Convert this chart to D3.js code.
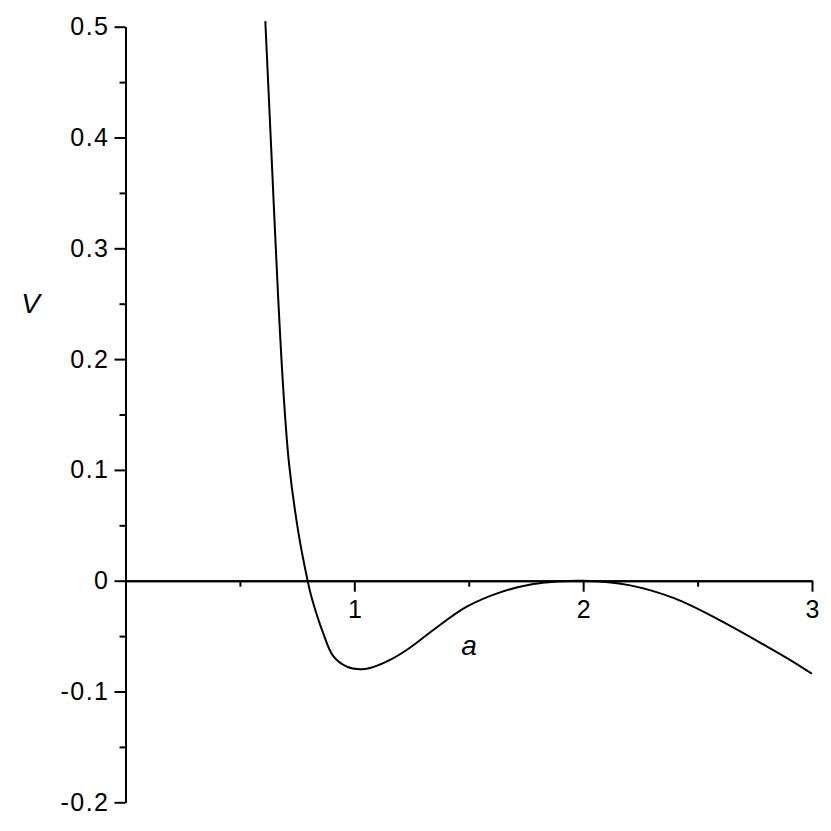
<!DOCTYPE html>
<meta charset="utf-8">
<style>
body { margin: 0; background: #fff; }
text { font-family: "Liberation Sans", Arial, sans-serif; }
</style>
<svg width="831" height="831"></svg>
<script src="https://cdn.jsdelivr.net/npm/d3@7"></script>
<script>

var svg = d3.select("svg");

// curve points
var aVals = [0.611, 0.637, 0.667, 0.691, 0.715, 0.756, 0.796, 0.813, 0.865, 0.908, 0.967, 1.025, 1.069, 1.156, 1.243, 1.345, 1.491, 1.637, 1.782, 1.880, 2.000, 2.200, 2.400, 2.600, 2.800, 2.900, 3.000];
var VVals = [0.505, 0.389, 0.256, 0.168, 0.105, 0.043, 0.000, -0.015, -0.048, -0.068, -0.0775, -0.080, -0.0788, -0.0715, -0.0605, -0.0445, -0.0235, -0.0105, -0.0030, -0.0008, 0.000, -0.004, -0.016, -0.036, -0.059, -0.071, -0.084];

var xMajor = [1, 2, 3];
var xMinor = [0.5, 1.5, 2.5];
var yMajor = [-0.2, -0.1, 0, 0.1, 0.2, 0.3, 0.4, 0.5];
var yMinor = [-0.15, -0.05, 0.05, 0.15, 0.25, 0.35, 0.45];

var x = d3.scaleLinear().domain([0, 3]).range([125.5, 812]);
var y = d3.scaleLinear().domain([-0.2, 0.5]).range([802.3, 26.7]);

function fmt(d) {
  if (d === 0) return "0";
  var s = d3.format(".1f")(Math.abs(d));
  return d < 0 ? "-" + s : s;
}

// y axis, minor ticks first
svg.append("g")
    .attr("transform", "translate(" + x(0) + ",0)")
    .call(d3.axisLeft(y).tickValues(yMinor).tickSize(6).tickSizeOuter(0).tickFormat(""));

var gy = svg.append("g")
    .attr("transform", "translate(" + x(0) + ",0)")
    .call(d3.axisLeft(y).tickValues(yMajor).tickSize(11).tickSizeOuter(0).tickPadding(5).tickFormat(fmt));

// x axis along V = 0
svg.append("g")
    .attr("transform", "translate(0," + y(0) + ")")
    .call(d3.axisBottom(x).tickValues(xMinor).tickSize(6).tickSizeOuter(0).tickFormat(""));

var gx = svg.append("g")
    .attr("transform", "translate(0," + y(0) + ")")
    .call(d3.axisBottom(x).tickValues(xMajor).tickSize(11).tickSizeOuter(0).tickPadding(9).tickFormat(d3.format("d")));

svg.selectAll(".domain, .tick line").attr("stroke", "#000").attr("stroke-width", 2);
svg.selectAll(".tick text")
    .attr("fill", "#000")
    .style("font-size", "25px")
    .style("font-family", "'Liberation Sans', Arial, sans-serif");
gy.selectAll(".tick text").style("letter-spacing", "1.5px");

// axis titles
svg.append("text")
    .attr("x", 30.5).attr("y", 313)
    .attr("text-anchor", "middle")
    .style("font-size", "28px").style("font-style", "italic")
    .text("V");

svg.append("text")
    .attr("x", 469).attr("y", 655)
    .attr("text-anchor", "middle")
    .style("font-size", "28px").style("font-style", "italic")
    .text("a");

var pts = aVals.map(function(a, i) { return [a, VVals[i]]; });

var line = d3.line()
    .x(function(d) { return x(d[0]); })
    .y(function(d) { return y(d[1]); })
    .curve(d3.curveCatmullRom.alpha(0.5));

svg.append("path")
    .datum(pts)
    .attr("fill", "none")
    .attr("stroke", "#000")
    .attr("stroke-width", 2)
    .attr("d", line);

</script>
